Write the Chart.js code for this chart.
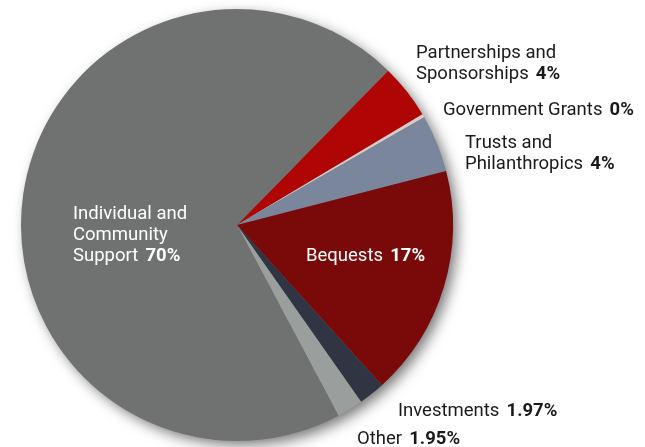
<!DOCTYPE html>
<html>
<head>
<meta charset="utf-8">
<script src="https://cdn.jsdelivr.net/npm/chart.js@4"></script>
<style>
  html, body { margin: 0; padding: 0; background: #fff; }
  #wrap { width: 645px; height: 447px; }
</style>
</head>
<body>
<div id="wrap"><canvas id="myChart"></canvas></div>
<script>
const categories = ['Partnerships and Sponsorships', 'Government Grants', 'Trusts and Philanthropics',
  'Bequests', 'Investments', 'Other', 'Individual and Community Support'];
const shares = [4.1, 0.25, 4.3, 17.3, 1.97, 1.95, 70.1];
const shareLabels = ['4%', '0%', '4%', '17%', '1.97%', '1.95%', '70%'];
const colors = ['#b00505', '#d9c9c9', '#7a869b', '#7a0a0a', '#2f3542', '#9a9e9c', '#6f7270'];

// where each label goes, its lines and colour
const labelSpots = [
  { x: 416, y: 58, lines: ['Partnerships and', 'Sponsorships'], color: '#1a1a1a' },
  { x: 443, y: 115, lines: ['Government Grants'], color: '#1a1a1a' },
  { x: 465, y: 148, lines: ['Trusts and', 'Philanthropics'], color: '#1a1a1a' },
  { x: 306, y: 261, lines: ['Bequests'], color: '#ffffff' },
  { x: 398, y: 416, lines: ['Investments'], color: '#1a1a1a' },
  { x: 357, y: 444, lines: ['Other'], color: '#1a1a1a' },
  { x: 73, y: 219, lines: ['Individual and', 'Community', 'Support'], color: '#ffffff' }
];

const pieShadow = {
  id: 'pieShadow',
  beforeDatasetsDraw(chart) {
    const arc = chart.getDatasetMeta(0).data[0];
    if (!arc) return;
    const ctx = chart.ctx;
    ctx.save();
    ctx.shadowColor = 'rgba(0,0,0,0.55)';
    ctx.shadowBlur = 14;
    ctx.shadowOffsetX = 5;
    ctx.shadowOffsetY = 5;
    ctx.fillStyle = '#6f7270';
    ctx.beginPath();
    ctx.arc(arc.x, arc.y, arc.outerRadius - 1, 0, Math.PI * 2);
    ctx.fill();
    ctx.restore();
  }
};

const sliceLabels = {
  id: 'sliceLabels',
  afterDraw(chart) {
    const ctx = chart.ctx;
    const lh = 21;
    ctx.save();
    ctx.textBaseline = 'alphabetic';
    ctx.textAlign = 'left';
    labelSpots.forEach((s, i) => {
      ctx.fillStyle = s.color;
      s.lines.forEach((line, j) => {
        const y = s.y + j * lh;
        ctx.font = '18.5px Roboto';
        ctx.fillText(line, s.x, y);
        if (j === s.lines.length - 1) {
          const w = ctx.measureText(line + '  ').width;
          ctx.font = 'bold 18.5px Roboto';
          ctx.fillText(shareLabels[i], s.x + w - 2, y);
        }
      });
    });
    ctx.restore();
  }
};

new Chart(document.getElementById('myChart'), {
  type: 'pie',
  data: {
    labels: categories,
    datasets: [{
      data: shares,
      backgroundColor: colors,
      borderWidth: 0
    }]
  },
  options: {
    responsive: true,
    maintainAspectRatio: false,
    animation: false,
    rotation: 44.4,
    layout: { padding: { left: 21, right: 192, top: 9, bottom: 6 } },
    plugins: {
      legend: { display: false },
      tooltip: { enabled: false }
    }
  },
  plugins: [pieShadow, sliceLabels]
});
</script>
</body>
</html>
